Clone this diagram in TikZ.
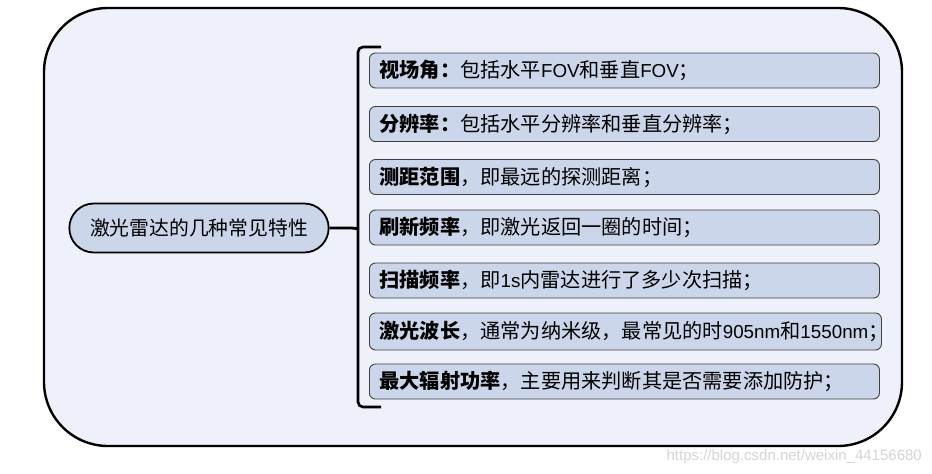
\documentclass[tikz,border=0pt]{standalone}
\usepackage{fontspec}
\setmainfont{Noto Sans CJK SC}
\newfontfamily\lat[Scale=0.93]{Liberation Sans}
\newfontfamily\latwm{Liberation Sans}
\usetikzlibrary{shapes.misc}
\definecolor{outerfill}{HTML}{EEF1F9}
\definecolor{boxfill}{HTML}{CCD6EA}
\definecolor{boxline}{HTML}{404040}
\definecolor{wm}{HTML}{D4D4D4}
\tikzset{
  itembox/.style={draw=boxline, line width=0.9pt, fill=boxfill, rounded corners=6pt,
    minimum height=35pt, anchor=west, inner xsep=0pt, text=black,
    text width=#1, align=left,
    font=\fontsize{20.2pt}{22pt}\selectfont},
  rootnode/.style={draw=black, line width=1.8pt, fill=boxfill, rounded rectangle,
    minimum width=266pt, minimum height=49pt, font=\fontsize{19.8pt}{22pt}\selectfont},
  brace/.style={draw=black, line width=2.6pt, rounded corners=5pt},
}
\newcommand{\itm}[1]{\hspace*{10pt}#1}
\begin{document}
\begin{tikzpicture}[x=1pt,y=-1pt]
\useasboundingbox (0,0) rectangle (932,474);
\draw[line width=2.4pt, fill=outerfill, rounded corners=64pt] (44,8) rectangle (902,446);
\node[rootnode] (root) at (199,228) {激光雷达的几种常见特性};
% items
\node[itembox=510pt] (i1) at (369,70.5) {\itm{\textbf{视场角：}包括水平{\lat FOV}和垂直{\lat FOV}；}};
\node[itembox=510pt] (i2) at (369,124) {\itm{\textbf{分辨率：}包括水平分辨率和垂直分辨率；}};
\node[itembox=510pt] (i3) at (369,177) {\itm{\textbf{测距范围}，即最远的探测距离；}};
\node[itembox=510pt] (i4) at (369,227.5) {\itm{\textbf{刷新频率}，即激光返回一圈的时间；}};
\node[itembox=510pt] (i5) at (369,280.5) {\itm{\textbf{扫描频率}，即{\lat 1s}内雷达进行了多少次扫描；}};
\node[itembox=512pt, minimum height=37pt] (i6) at (369,331.5) {\itm{\textbf{激光波长}，通常为纳米级，最常见的时{\lat 905nm}和{\lat 1550nm}；}};
\node[itembox=510pt] (i7) at (369,381.5) {\itm{\textbf{最大辐射功率}，主要用来判断其是否需要添加防护；}};
% brace
\coordinate (btop) at (381,47);
\coordinate (bbot) at (381,407);
\coordinate (bmid) at (359,229);
\draw[brace] (btop) -- (358,47) -- (358,407) -- (bbot);
\draw[line width=2.8pt] (root.east) -- (350,228) .. controls (355,228) and (358,229) .. (bmid);
% watermark
\node[anchor=east, text=wm, inner sep=0pt, font=\latwm\fontsize{15pt}{17pt}\selectfont] (wmark) at (922,457) {https://blog.csdn.net/weixin\_44156680};
\end{tikzpicture}
\end{document}
